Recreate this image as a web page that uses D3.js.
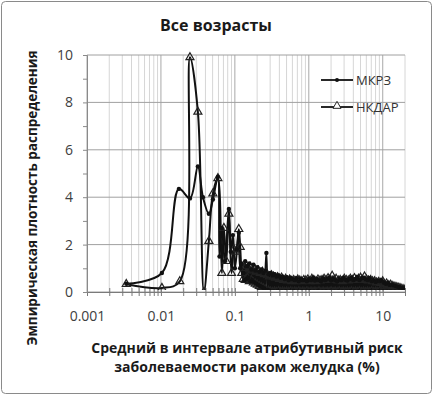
<!DOCTYPE html>
<html>
<head>
<meta charset="utf-8">
<script src="https://cdnjs.cloudflare.com/ajax/libs/d3/7.8.5/d3.min.js"></script>
<style>
body { margin: 0; background: #fff; }
text { font-family: "Open Sans", Lato, sans-serif; }
</style>
</head>
<body>
<script>
var w = 433, h = 395;
var margin = {top: 55, right: 28, bottom: 103, left: 87};
var pw = w - margin.left - margin.right,
    ph = h - margin.top - margin.bottom;

var title = "Все возрасты";
var yTitle = "Эмпирическая плотность распределения";
var xTitle = ["Средний в интервале атрибутивный риск", "заболеваемости раком желудка (%)"];
var seriesNames = ["МКРЗ", "НКДАР"];
var xTickValues = [0.001, 0.01, 0.1, 1, 10];
var xTickLabels = ["0.001", "0.01", "0.1", "1", "10"];
var yTickValues = [0, 2, 4, 6, 8, 10];

// pics principaux
var mkrzMainX = [0.0034, 0.0103, 0.0175, 0.0247, 0.0316, 0.037, 0.0445, 0.0504, 0.0589, 0.062, 0.0667, 0.0733, 0.083, 0.088, 0.094, 0.1, 0.107, 0.113, 0.118, 0.124];
var mkrzMainY = [0.35, 0.8, 4.35, 3.95, 5.3, 4.0, 3.3, 3.9, 4.85, 1.5, 2.7, 1.3, 3.5, 1.7, 2.4, 1.0, 1.8, 2.5, 1.0, 1.2];
var nkdarMainX = [0.0034, 0.0103, 0.018, 0.0247, 0.0316, 0.0381, 0.0445, 0.0504, 0.0589, 0.0667, 0.071, 0.0765, 0.083, 0.09, 0.097, 0.103, 0.113, 0.118, 0.124];
var nkdarMainY = [0.33, 0.17, 0.45, 9.9, 7.6, 0.0, 2.15, 4.15, 4.8, 0.8, 2.7, 1.3, 3.3, 0.8, 1.8, 1.7, 2.65, 1.9, 0.8];

// queue (0.13 - 20 %)
var tailX = [
  0.130, 0.134, 0.138, 0.143, 0.147, 0.152, 0.157, 0.162, 0.167, 0.172,
  0.178, 0.183, 0.189, 0.195, 0.201, 0.208, 0.214, 0.221, 0.228, 0.236,
  0.243, 0.251, 0.259, 0.267, 0.276, 0.285, 0.294, 0.303, 0.313, 0.323,
  0.333, 0.344, 0.355, 0.366, 0.378, 0.390, 0.402, 0.415, 0.428, 0.442,
  0.456, 0.471, 0.486, 0.501, 0.517, 0.534, 0.551, 0.568, 0.587, 0.605,
  0.625, 0.645, 0.665, 0.687, 0.709, 0.731, 0.755, 0.779, 0.804, 0.829,
  0.856, 0.883, 0.911, 0.941, 0.971, 1.00, 1.03, 1.07, 1.10, 1.14,
  1.17, 1.21, 1.25, 1.29, 1.33, 1.37, 1.42, 1.46, 1.51, 1.56,
  1.61, 1.66, 1.71, 1.77, 1.82, 1.88, 1.94, 2.00, 2.07, 2.13,
  2.20, 2.27, 2.34, 2.42, 2.50, 2.58, 2.66, 2.74, 2.83, 2.92,
  3.02, 3.11, 3.21, 3.32, 3.42, 3.53, 3.65, 3.76, 3.88, 4.01,
  4.14, 4.27, 4.40, 4.55, 4.69, 4.84, 5.00, 5.16, 5.32, 5.49,
  5.67, 5.85, 6.04, 6.23, 6.43, 6.64, 6.85, 7.07, 7.29, 7.53,
  7.77, 8.02, 8.27, 8.54, 8.81, 9.09, 9.38, 9.68, 9.99, 10.3,
  10.6, 11.0, 11.3, 11.7, 12.1, 12.4, 12.8, 13.3, 13.7, 14.1,
  14.6, 15.0, 15.5, 16.0, 16.5, 17.1, 17.6, 18.2, 18.8, 19.4, 20.0];
var mkrzTailY = [
  0.8, 0.5, 1.3, 0.55, 1.1, 0.6, 1.2, 0.45, 0.95, 0.5,
  1.15, 0.4, 0.9, 0.35, 1.05, 0.3, 0.85, 0.25, 0.95, 0.2,
  0.8, 0.15, 0.9, 1.65, 0.1, 0.75, 0.05, 0.8, 0.0, 0.7,
  0.02, 0.75, 0.0, 0.65, 0.04, 0.7, 0.0, 0.6, 0.02, 0.65,
  0.0, 0.55, 0.03, 0.62, 0.0, 0.5, 0.02, 0.6, 0.0, 0.55,
  0.04, 0.5, 0.0, 0.58, 0.02, 0.45, 0.0, 0.55, 0.03, 0.5,
  0.0, 0.52, 0.02, 0.45, 0.0, 0.55, 0.03, 0.5, 0.0, 0.6,
  0.02, 0.48, 0.0, 0.55, 0.04, 0.5, 0.0, 0.45, 0.02, 0.58,
  0.0, 0.5, 0.03, 0.55, 0.0, 0.6, 0.02, 0.48, 0.0, 0.55,
  0.02, 0.5, 0.0, 0.45, 0.03, 0.55, 0.0, 0.5, 0.02, 0.6,
  0.0, 0.52, 0.02, 0.48, 0.0, 0.55, 0.03, 0.6, 0.0, 0.5,
  0.02, 0.55, 0.0, 0.62, 0.03, 0.5, 0.0, 0.58, 0.02, 0.6,
  0.0, 0.55, 0.02, 0.5, 0.0, 0.58, 0.03, 0.45, 0.0, 0.5,
  0.02, 0.42, 0.0, 0.48, 0.03, 0.45, 0.0, 0.5, 0.02, 0.4,
  0.0, 0.35, 0.02, 0.38, 0.0, 0.3, 0.02, 0.32, 0.0, 0.28,
  0.02, 0.25, 0.0, 0.22, 0.02, 0.2, 0.0, 0.18, 0.02, 0.15, 0.05];
var nkdarTailY = [
  0.55, 1.0, 0.5, 1.1, 0.6, 0.95, 0.45, 1.05, 0.5, 0.9,
  0.4, 1.0, 0.35, 0.85, 0.3, 0.9, 0.25, 0.8, 0.2, 0.85,
  0.15, 0.75, 0.1, 0.8, 0.7, 0.05, 0.65, 0.02, 0.7, 0.0,
  0.65, 0.02, 0.6, 0.0, 0.62, 0.03, 0.55, 0.0, 0.6, 0.02,
  0.5, 0.0, 0.55, 0.02, 0.48, 0.0, 0.52, 0.03, 0.45, 0.0,
  0.5, 0.02, 0.45, 0.0, 0.52, 0.03, 0.48, 0.0, 0.45, 0.02,
  0.5, 0.0, 0.48, 0.03, 0.52, 0.0, 0.45, 0.02, 0.55, 0.0,
  0.5, 0.02, 0.45, 0.0, 0.52, 0.03, 0.48, 0.0, 0.5, 0.02,
  0.55, 0.0, 0.5, 0.02, 0.58, 0.0, 0.52, 0.03, 0.68, 0.0,
  0.5, 0.02, 0.55, 0.0, 0.48, 0.03, 0.5, 0.0, 0.45, 0.02,
  0.55, 0.0, 0.5, 0.02, 0.48, 0.0, 0.55, 0.03, 0.5, 0.0,
  0.58, 0.02, 0.5, 0.0, 0.55, 0.03, 0.6, 0.0, 0.5, 0.02,
  0.65, 0.0, 0.52, 0.02, 0.48, 0.0, 0.5, 0.03, 0.45, 0.0,
  0.45, 0.02, 0.4, 0.0, 0.42, 0.03, 0.38, 0.0, 0.45, 0.02,
  0.32, 0.0, 0.35, 0.02, 0.28, 0.0, 0.3, 0.02, 0.25, 0.0,
  0.22, 0.02, 0.2, 0.0, 0.18, 0.02, 0.15, 0.0, 0.12, 0.02, 0.1];

var mkrz = d3.zip(mkrzMainX, mkrzMainY).concat(d3.zip(tailX, mkrzTailY));
var nkdar = d3.zip(nkdarMainX, nkdarMainY).concat(d3.zip(tailX, nkdarTailY));

var x = d3.scaleLog().domain([0.001, 20]).range([0, pw]);
var y = d3.scaleLinear().domain([0, 10]).range([ph, 0]);

var svg = d3.select("body").append("svg")
  .attr("width", w)
  .attr("height", h);

svg.append("rect")
  .attr("x", 1.5).attr("y", 1.5)
  .attr("width", w - 3).attr("height", h - 3)
  .attr("rx", 4)
  .style("fill", "#fff")
  .style("stroke", "#8a8a8a");

svg.append("text")
  .attr("x", 216).attr("y", 31)
  .attr("text-anchor", "middle")
  .style("font-size", "16px").style("font-weight", "bold").style("fill", "#1a1a1a")
  .text(title);

var g = svg.append("g")
  .attr("transform", "translate(" + margin.left + "," + margin.top + ")");

svg.append("clipPath").attr("id", "clip")
  .append("rect").attr("x", 0).attr("y", -4).attr("width", pw).attr("height", ph + 2);

// grille
var allX = x.ticks();
g.append("g").selectAll("line")
  .data(allX.filter(function(d) { return xTickValues.indexOf(d) < 0; }))
  .enter().append("line")
  .attr("x1", function(d) { return x(d); }).attr("x2", function(d) { return x(d); })
  .attr("y1", 0).attr("y2", ph)
  .style("stroke", "#d6d6d6").style("stroke-width", 1);

g.append("g").selectAll("line")
  .data(xTickValues)
  .enter().append("line")
  .attr("x1", function(d) { return x(d); }).attr("x2", function(d) { return x(d); })
  .attr("y1", 0).attr("y2", ph)
  .style("stroke", "#a8a8a8").style("stroke-width", 1);

g.append("g").selectAll("line")
  .data(yTickValues)
  .enter().append("line")
  .attr("x1", 0).attr("x2", pw)
  .attr("y1", function(d) { return y(d); }).attr("y2", function(d) { return y(d); })
  .style("stroke", "#a0a0a0").style("stroke-width", 1);

// axes
var xAxis = d3.axisBottom(x)
  .tickValues(allX)
  .tickSize(4)
  .tickFormat(function(d) {
    var i = xTickValues.indexOf(d);
    return i < 0 ? "" : xTickLabels[i];
  });
var gx = g.append("g").attr("transform", "translate(0," + ph + ")").call(xAxis);
gx.select(".domain").style("stroke", "#7a7a7a");
gx.selectAll(".tick line").attr("y1", -4).style("stroke", "#7a7a7a");
gx.selectAll(".tick text")
  .attr("dy", "0.71em").attr("y", 19)
  .style("font-size", "14px").style("fill", "#404040");

var yAxis = d3.axisLeft(y)
  .ticks(10)
  .tickSize(4)
  .tickFormat(function(d) { return yTickValues.indexOf(d) < 0 ? "" : d; });
var gy = g.append("g").call(yAxis);
gy.select(".domain").style("stroke", "#8a8a8a");
gy.selectAll(".tick line").style("stroke", "#8a8a8a");
gy.selectAll(".tick text")
  .attr("x", -14)
  .style("font-size", "14px").style("fill", "#404040");

// series
var line = d3.line()
  .x(function(d) { return x(d[0]); })
  .y(function(d) { return y(d[1]); })
  .curve(d3.curveCatmullRom.alpha(0.5));

var plot = g.append("g").attr("clip-path", "url(#clip)");

plot.append("path").datum(mkrz)
  .attr("d", line)
  .style("fill", "none").style("stroke", "#111").style("stroke-width", 2);

plot.append("path").datum(nkdar)
  .attr("d", line)
  .style("fill", "none").style("stroke", "#111").style("stroke-width", 2);

var tri = d3.symbol().type(d3.symbolTriangle).size(28);

plot.append("g").selectAll("path")
  .data(nkdar)
  .enter().append("path")
  .attr("d", tri)
  .attr("transform", function(d) { return "translate(" + x(d[0]) + "," + y(d[1]) + ")"; })
  .style("fill", "none").style("stroke", "#222").style("stroke-width", 1.2);

plot.append("g").selectAll("circle")
  .data(mkrz)
  .enter().append("circle")
  .attr("cx", function(d) { return x(d[0]); })
  .attr("cy", function(d) { return y(d[1]); })
  .attr("r", 2.2)
  .style("fill", "#111");

// legende
var legend = svg.append("g");
legend.append("line")
  .attr("x1", 321).attr("x2", 353).attr("y1", 80).attr("y2", 80)
  .style("stroke", "#111").style("stroke-width", 1.8);
legend.append("circle")
  .attr("cx", 337).attr("cy", 80).attr("r", 2)
  .style("fill", "#111");
legend.append("line")
  .attr("x1", 321).attr("x2", 353).attr("y1", 107).attr("y2", 107)
  .style("stroke", "#111").style("stroke-width", 1.8);
legend.append("path")
  .attr("d", tri)
  .attr("transform", "translate(337,106)")
  .style("fill", "#fff").style("stroke", "#222").style("stroke-width", 1);
legend.selectAll("text.leg")
  .data(seriesNames)
  .enter().append("text")
  .attr("class", "leg")
  .attr("x", 356)
  .attr("y", function(d, i) { return 85 + i * 27; })
  .style("font-size", "13px").style("fill", "#333")
  .text(function(d) { return d; });

// titres des axes
svg.append("text")
  .attr("transform", "translate(37,198) rotate(-90)")
  .attr("text-anchor", "middle")
  .style("font-size", "13.5px").style("font-weight", "bold").style("fill", "#1a1a1a")
  .text(yTitle);

svg.selectAll("text.xt")
  .data(xTitle)
  .enter().append("text")
  .attr("class", "xt")
  .attr("x", 247)
  .attr("y", function(d, i) { return 353 + i * 19; })
  .attr("text-anchor", "middle")
  .style("font-size", "14px").style("font-weight", "bold").style("fill", "#1a1a1a")
  .text(function(d) { return d; });
</script>
</body>
</html>
